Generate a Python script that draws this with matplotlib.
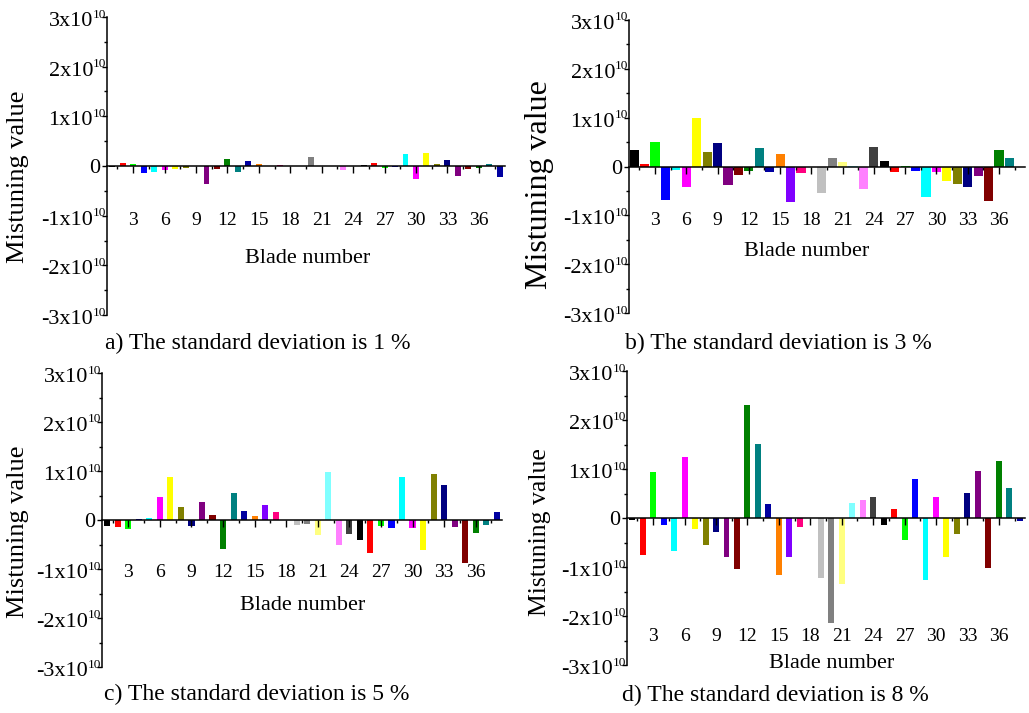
import matplotlib.pyplot as plt
from matplotlib.ticker import MultipleLocator
import numpy as np

plt.rcParams['font.family'] = ['Liberation Serif', 'DejaVu Serif']

blades = np.arange(1, 39)
xticks = np.arange(3, 37, 3)
yticks = [-3, -2, -1, 0, 1, 2, 3]  # in units of 1e10

# Origin default colour list (black ... dark gray), repeated over the blades
origin_colors = ['#000000', '#FF0000', '#00FF00', '#0000FF', '#00FFFF', '#FF00FF',
                 '#FFFF00', '#808000', '#000080', '#800080', '#800000', '#008000',
                 '#008080', '#0000A0', '#FF8000', '#8000FF', '#FF0080', '#FFFFFF',
                 '#C0C0C0', '#808080', '#FFFF80', '#80FFFF', '#FF80FF', '#404040']

# mistuning values, units of 1e10
sd1 = [-0.03, 0.07, 0.05, -0.15, -0.12, -0.09, -0.07, -0.05, 0.01, -0.36,
       -0.07, 0.14, -0.13, 0.11, 0.05, 0.005, 0.03, 0.0, -0.01, 0.19,
       0.01, -0.01, -0.09, -0.01, 0.03, 0.07, -0.05, -0.03, 0.24, -0.27,
       0.26, 0.05, 0.12, -0.20, -0.07, -0.04, 0.05, -0.22]
sd3 = [0.34, 0.05, 0.50, -0.68, -0.075, -0.42, 1.00, 0.29, 0.49, -0.38,
       -0.17, -0.10, 0.38, -0.11, 0.25, -0.72, -0.14, 0.0, -0.55, 0.18,
       0.10, 0.02, -0.47, 0.39, 0.12, -0.12, 0.01, -0.10, -0.62, -0.12,
       -0.30, -0.35, -0.41, -0.20, -0.71, 0.34, 0.18, -0.02]
sd5 = [-0.12, -0.14, -0.18, 0.02, 0.04, 0.47, 0.88, 0.27, -0.13, 0.37,
       0.11, -0.60, 0.55, 0.18, 0.08, 0.30, 0.16, 0.0, -0.11, -0.09,
       -0.31, 0.98, -0.52, -0.28, -0.41, -0.68, -0.13, -0.17, 0.88, -0.16,
       -0.62, 0.93, 0.71, -0.15, -0.87, -0.26, -0.10, 0.17]
sd8 = [-0.04, -0.75, 0.94, -0.14, -0.67, 1.24, -0.22, -0.55, -0.28, -0.79,
       -1.04, 2.31, 1.52, 0.29, -1.16, -0.80, -0.18, 0.0, -1.23, -2.15,
       -1.34, 0.31, 0.37, 0.42, -0.14, 0.18, -0.45, 0.80, -1.27, 0.42,
       -0.80, -0.33, 0.51, 0.96, -1.03, 1.16, 0.61, -0.07]

titles = ['a) The standard deviation is 1 %', 'b) The standard deviation is 3 %',
          'c) The standard deviation is 5 %', 'd) The standard deviation is 8 %']

W, H = 1029, 713
fig = plt.figure(figsize=(W / 100, H / 100), dpi=100)


def box(l, r, t, b):
    return [l / W, 1 - b / H, (r - l) / W, (b - t) / H]


# per panel layout (pixels): axes box, bar width, tick label pad,
# xlabel centre, title left/centre, ylabel centre, ylabel size
panels = [
    dict(data=sd1, box=box(107, 505, 17, 315), width=0.57, pad=28,
         xl=(308, 258), tl=(105, 343), yl=(18, 177), ys=19),
    dict(data=sd3, box=box(629, 1025, 20, 313), width=0.88, pad=28,
         xl=(807, 252), tl=(625, 343), yl=(540, 185), ys=23),
    dict(data=sd5, box=box(102, 502, 373, 667), width=0.58, pad=27,
         xl=(303, 606), tl=(104, 694), yl=(18, 532), ys=19),
    dict(data=sd8, box=box(627, 1025, 371, 665), width=0.57, pad=74,
         xl=(832, 663), tl=(622, 695), yl=(540, 532), ys=18.5),
]

colors = [origin_colors[(b - 1) % len(origin_colors)] for b in blades]

for p, title in zip(panels, titles):
    ax = fig.add_axes(p['box'])
    vals = np.array(p['data']) * 1e10
    ax.bar(blades, vals, width=p['width'], color=colors, zorder=1)

    ax.set_xlim(0.5, 38.5)
    ax.set_ylim(-3e10, 3e10)
    for s in ['top', 'right']:
        ax.spines[s].set_visible(False)
    ax.spines['bottom'].set_position(('data', 0))
    ax.spines['bottom'].set_linewidth(1.1)
    ax.spines['left'].set_linewidth(1.1)

    ax.set_xticks(xticks)
    ax.xaxis.set_minor_locator(MultipleLocator(1.5))
    ax.tick_params(axis='x', which='major', direction='out', length=5, width=1,
                   labelsize=14, pad=p['pad'])
    ax.tick_params(axis='x', which='minor', direction='out', length=2.5, width=1)

    ax.set_yticks([v * 1e10 for v in yticks])
    ax.yaxis.set_minor_locator(MultipleLocator(0.5e10))
    ax.set_yticklabels([])
    ax.tick_params(axis='y', which='major', direction='out', length=3.5, width=1)
    ax.tick_params(axis='y', which='minor', direction='out', length=2, width=1)

    # y tick labels in the "3x10^10" style with a small exponent
    for k in yticks:
        if k == 0:
            ax.annotate('0', xy=(0, 0), xycoords=('axes fraction', 'data'),
                        xytext=(-7, 0), textcoords='offset pixels',
                        ha='right', va='center_baseline', fontsize=16)
            continue
        ax.annotate('%dx10' % k, xy=(0, k * 1e10), xycoords=('axes fraction', 'data'),
                    xytext=(-14, -2), textcoords='offset pixels',
                    ha='right', va='center_baseline', fontsize=16)
        ax.annotate('10', xy=(0, k * 1e10), xycoords=('axes fraction', 'data'),
                    xytext=(-1, 4), textcoords='offset pixels',
                    ha='right', va='center_baseline', fontsize=9.5)

    fig.text(p['xl'][0] / W, 1 - p['xl'][1] / H, 'Blade number',
             ha='center', va='center', fontsize=16)
    fig.text(p['tl'][0] / W, 1 - p['tl'][1] / H, title,
             ha='left', va='center', fontsize=17)
    fig.text(p['yl'][0] / W, 1 - p['yl'][1] / H, 'Mistuning value',
             ha='center', va='center', rotation=90, fontsize=p['ys'])

fig.savefig('out.png', dpi=100)
